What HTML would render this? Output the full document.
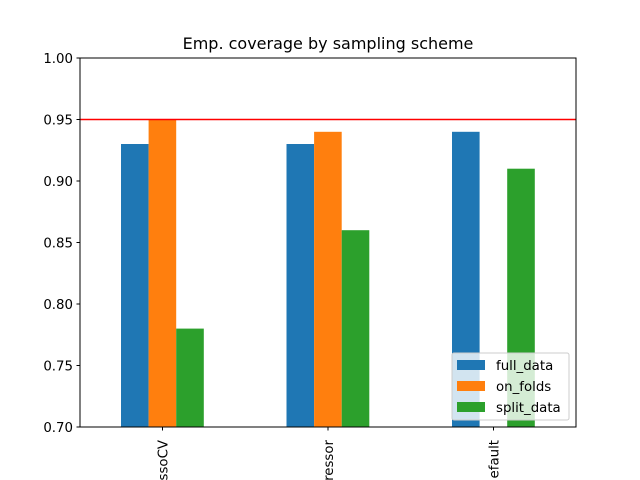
<!DOCTYPE html>
<html><head><style>html,body{margin:0;background:#fff;width:640px;height:480px;overflow:hidden}svg{display:block}</style></head>
<body>
<svg width="640" height="480" xmlns="http://www.w3.org/2000/svg" font-family="DejaVu Sans, sans-serif" font-size="13.33" style="overflow:hidden">
<rect width="640" height="480" fill="#fff"/>
<g>
<rect x="121" y="144" width="27.6" height="283" fill="#1f77b4"/>
<rect x="148.6" y="119.5" width="27.6" height="307.5" fill="#ff7f0e"/>
<rect x="176.2" y="328.6" width="27.6" height="98.4" fill="#2ca02c"/>
<rect x="286.5" y="144" width="27.6" height="283" fill="#1f77b4"/>
<rect x="314.1" y="131.8" width="27.6" height="295.2" fill="#ff7f0e"/>
<rect x="341.7" y="230.2" width="27.6" height="196.8" fill="#2ca02c"/>
<rect x="452" y="131.8" width="27.6" height="295.2" fill="#1f77b4"/>
<rect x="507.2" y="168.7" width="27.6" height="258.3" fill="#2ca02c"/>
</g>
<line x1="80" y1="119.5" x2="576" y2="119.5" stroke="#ff0000" stroke-width="1.5"/>
<rect x="80" y="58" width="496" height="369" fill="none" stroke="#000" stroke-width="1"/>
<g stroke="#000">
<line x1="76.5" y1="427" x2="80" y2="427"/><line x1="76.5" y1="365.5" x2="80" y2="365.5"/>
<line x1="76.5" y1="304" x2="80" y2="304"/><line x1="76.5" y1="242.5" x2="80" y2="242.5"/>
<line x1="76.5" y1="181" x2="80" y2="181"/><line x1="76.5" y1="119.5" x2="80" y2="119.5"/>
<line x1="76.5" y1="58" x2="80" y2="58"/>
<line x1="162.5" y1="427" x2="162.5" y2="430.5"/><line x1="328" y1="427" x2="328" y2="430.5"/><line x1="493.5" y1="427" x2="493.5" y2="430.5"/>
</g>
<g text-anchor="end">
<text x="73" y="432">0.70</text><text x="73" y="370.5">0.75</text><text x="73" y="309">0.80</text>
<text x="73" y="247.5">0.85</text><text x="73" y="186">0.90</text><text x="73" y="124.5">0.95</text><text x="73" y="63">1.00</text>
<text transform="translate(167.5,440) rotate(-90)">ssoCV</text>
<text transform="translate(333,440) rotate(-90)">ressor</text>
<text transform="translate(498.5,440) rotate(-90)">efault</text>
</g>
<text x="328" y="49" text-anchor="middle" font-size="16">Emp. coverage by sampling scheme</text>
<rect x="452" y="353" width="117" height="67" rx="2" fill="#fff" fill-opacity="0.8" stroke="#ccc"/>
<rect x="457" y="360" width="28" height="10" fill="#1f77b4"/>
<rect x="457" y="381" width="28" height="10" fill="#ff7f0e"/>
<rect x="457" y="402" width="28" height="10" fill="#2ca02c"/>
<text x="496" y="370">full_data</text>
<text x="496" y="391">on_folds</text>
<text x="496" y="412">split_data</text>
</svg>
</body></html>
